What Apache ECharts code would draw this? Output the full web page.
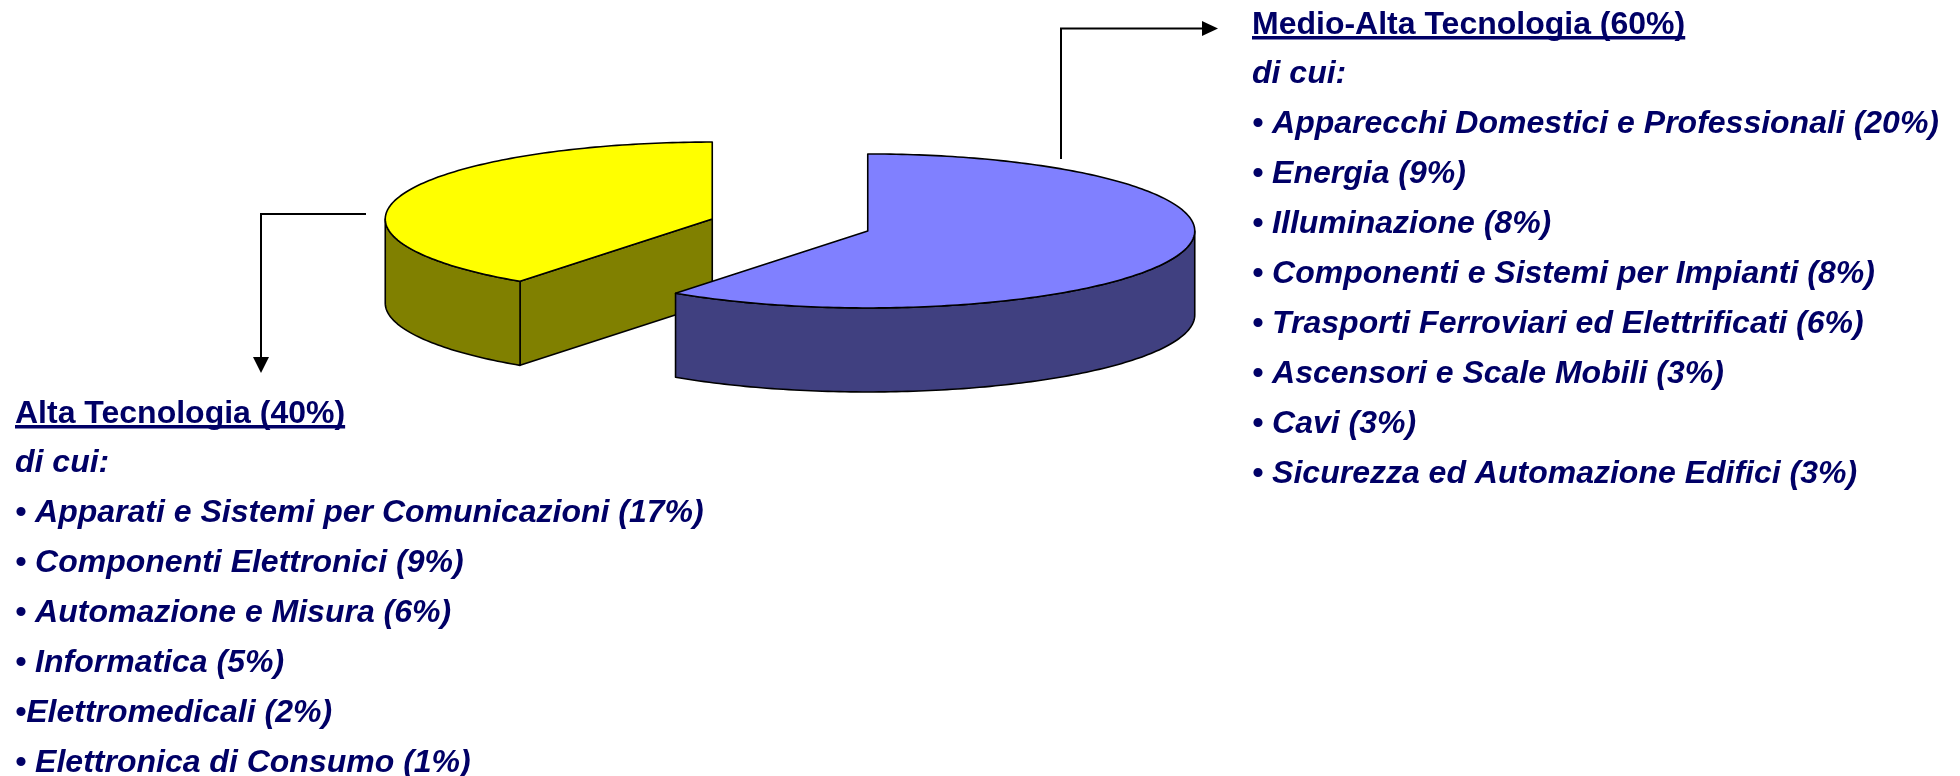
<!DOCTYPE html>
<html>
<head>
<meta charset="utf-8">
<script src="https://cdn.jsdelivr.net/npm/echarts@6/dist/echarts.min.js"></script>
<style>
  html, body { margin: 0; padding: 0; background: #fff; }
  #c1 { width: 1960px; height: 776px; }
</style>
</head>
<body>
<div id="c1"></div>
<script>
// slices of the pie
const sliceNames = ['Alta Tecnologia', 'Medio-Alta Tecnologia']
const sliceValues = [40, 60]
const topColors = ['#ffff00', '#8080ff']
const sideColors = ['#808000', '#404080']

// breakdown of each slice
const altaNames = ['Apparati e Sistemi per Comunicazioni', 'Componenti Elettronici', 'Automazione e Misura', 'Informatica', 'Elettromedicali', 'Elettronica di Consumo']
const altaShares = [17, 9, 6, 5, 2, 1]
const altaBullets = ['• ', '• ', '• ', '• ', '•', '• ']
const medioNames = ['Apparecchi Domestici e Professionali', 'Energia', 'Illuminazione', 'Componenti e Sistemi per Impianti', 'Trasporti Ferroviari ed Elettrificati', 'Ascensori e Scale Mobili', 'Cavi', 'Sicurezza ed Automazione Edifici']
const medioShares = [20, 9, 8, 8, 6, 3, 3, 3]

const pie = { cx: 790, cy: 225, rx: 327, ry: 77, depth: 84, explode: 0.25, start: 90 }
const textColor = '#000066'
const titleFont = 'bold 32px "Liberation Sans", Arial, sans-serif'
const itemFont = 'italic bold 32px "Liberation Sans", Arial, sans-serif'

const total = sliceValues.reduce((a, b) => a + b, 0)
const rad = d => d * Math.PI / 180

function renderSlice(params, api) {
  const i = params.dataIndex
  let before = 0
  for (let k = 0; k < i; k++) before += sliceValues[k]
  const a0 = pie.start + before / total * 360
  const a1 = a0 + api.value(0) / total * 360
  const mid = rad((a0 + a1) / 2)
  const ox = pie.cx + pie.explode * pie.rx * Math.cos(mid)
  const oy = pie.cy - pie.explode * pie.ry * Math.sin(mid)
  const pt = (a, dy) => [ox + pie.rx * Math.cos(rad(a)), oy - pie.ry * Math.sin(rad(a)) + dy]
  const arc = (from, to, dy) => {
    const pts = []
    const n = Math.max(2, Math.ceil(Math.abs(to - from)))
    for (let s = 0; s <= n; s++) pts.push(pt(from + (to - from) * s / n, dy))
    return pts
  }
  const edge = { stroke: '#000', lineWidth: 1.6, lineJoin: 'round' }
  const side = Object.assign({ fill: sideColors[i] }, edge)
  const children = []
  const T = pie.depth
  // flat cut faces
  const radial = a => children.push({ type: 'polygon', shape: { points: [[ox, oy], pt(a, 0), pt(a, T), [ox, oy + T]] }, style: side })
  if (Math.cos(rad(a0)) > 1e-6) radial(a0)
  if (Math.cos(rad(a1)) < -1e-6) radial(a1)
  // curved front wall
  for (let k = -1; k <= 2; k++) {
    const lo = Math.max(a0, 180 + 360 * k)
    const hi = Math.min(a1, 360 + 360 * k)
    if (hi - lo > 0.01) {
      const pts = arc(lo, hi, 0).concat(arc(hi, lo, T))
      children.push({ type: 'polygon', shape: { points: pts }, style: side })
    }
  }
  // top
  children.push({
    type: 'polygon',
    shape: { points: [[ox, oy]].concat(arc(a0, a1, 0)) },
    style: Object.assign({ fill: topColors[i] }, edge)
  })
  return { type: 'group', children }
}

const measure = document.createElement('canvas').getContext('2d')
function textWidth(str, font) {
  measure.font = font
  return measure.measureText(str).width
}

function textBlock(x, baseline, title, lines) {
  const els = []
  const step = 50
  const off = 7.5
  els.push({ type: 'text', x, y: baseline - off, style: { text: title, font: titleFont, fill: textColor, verticalAlign: 'middle' } })
  els.push({ type: 'rect', shape: { x, y: baseline + 3, width: textWidth(title, titleFont), height: 3.5 }, style: { fill: textColor } })
  els.push({ type: 'text', x, y: baseline + 49 - off, style: { text: 'di cui:', font: itemFont, fill: textColor, verticalAlign: 'middle' } })
  lines.forEach((t, k) => {
    els.push({ type: 'text', x, y: baseline + 99 + k * step - off, style: { text: t, font: itemFont, fill: textColor, verticalAlign: 'middle' } })
  })
  return els
}

const altaLines = altaNames.map((n, k) => altaBullets[k] + n + ' (' + altaShares[k] + '%)')
const medioLines = medioNames.map((n, k) => '• ' + n + ' (' + medioShares[k] + '%)')

const arrowStyle = { stroke: '#000', lineWidth: 2, fill: null }
const graphic = [
  { type: 'polyline', shape: { points: [[366, 214], [261, 214], [261, 358]] }, style: arrowStyle },
  { type: 'polygon', shape: { points: [[253, 357], [269, 357], [261, 373]] }, style: { fill: '#000' } },
  { type: 'polyline', shape: { points: [[1061, 159], [1061, 28.5], [1203, 28.5]] }, style: arrowStyle },
  { type: 'polygon', shape: { points: [[1202, 21], [1202, 36], [1218, 28.5]] }, style: { fill: '#000' } }
]
  .concat(textBlock(15, 422, sliceNames[0] + ' (' + sliceValues[0] + '%)', altaLines))
  .concat(textBlock(1252, 33, sliceNames[1] + ' (' + sliceValues[1] + '%)', medioLines))

const myChart = echarts.init(document.getElementById('c1'))
const option = {
  backgroundColor: '#fff',
  animation: false,
  series: [
    {
      type: 'custom',
      coordinateSystem: 'none',
      silent: true,
      renderItem: renderSlice,
      data: sliceValues.map((v, i) => ({ name: sliceNames[i], value: [v] }))
    }
  ],
  graphic
}
myChart.setOption(option)
</script>
</body>
</html>
